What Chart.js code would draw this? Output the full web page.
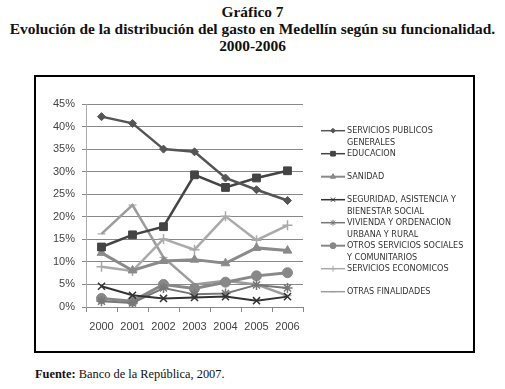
<!DOCTYPE html>
<html>
<head>
<meta charset="utf-8">
<script src="https://cdn.jsdelivr.net/npm/chart.js@4/dist/chart.umd.min.js"></script>
<style>
  body { margin: 0; width: 505px; height: 389px; background: #fff; position: relative; overflow: hidden; }
  .title { position: absolute; left: 0; width: 505px; text-align: center; font-family: "Liberation Serif", serif; font-weight: bold; font-size: 15.4px; color: #111; line-height: 17px; }
  #box { position: absolute; left: 34px; top: 75px; width: 441px; height: 278px; border: 2px solid #000; box-sizing: border-box; }
  #box canvas { position: absolute; left: 0; top: 0; }
  #fuente { position: absolute; left: 35px; top: 367px; font-family: "Liberation Serif", serif; font-size: 12.4px; color: #111; }
</style>
</head>
<body>
<div class="title" style="top:3px">Gráfico 7</div>
<div class="title" style="top:20px">Evolución de la distribución del gasto en Medellín según su funcionalidad.</div>
<div class="title" style="top:37px">2000-2006</div>
<div id="box"><canvas id="chartGasto" width="437" height="274"></canvas></div>
<div id="fuente"><b>Fuente:</b> Banco de la República, 2007.</div>
<script>
const years = ['2000', '2001', '2002', '2003', '2004', '2005', '2006'];
const serviciosPublicos = [42.2, 40.7, 35.0, 34.4, 28.6, 26.0, 23.6];
const educacion = [13.3, 16.0, 17.8, 29.3, 26.5, 28.6, 30.2];
const sanidad = [12.0, 8.1, 10.2, 10.5, 9.7, 13.1, 12.5];
const seguridad = [4.6, 2.6, 1.9, 2.1, 2.3, 1.4, 2.3];
const vivienda = [1.3, 0.9, 4.2, 2.8, 3.0, 4.9, 4.2];
const otrosSociales = [1.9, 1.3, 5.0, 4.1, 5.5, 6.9, 7.6];
const economicos = [8.9, 8.0, 15.1, 12.7, 20.1, 14.8, 18.1];
const otrasFinalidades = [16.2, 22.6, 11.0, 5.0, 5.8, 5.0, 2.5];
const yTicks = [0, 5, 10, 15, 20, 25, 30, 35, 40, 45];

const series = [
    { label: ['SERVICIOS PUBLICOS', 'GENERALES'], data: serviciosPublicos, color: '#555', style: 'rectRot', radius: 4, width: 2.5 },
    { label: ['EDUCACION'], data: educacion, color: '#444', style: 'rect', radius: 5.5, width: 2.5 },
    { label: ['SANIDAD'], data: sanidad, color: '#8a8a8a', style: 'triangle', radius: 5, width: 3 },
    { label: ['SEGURIDAD, ASISTENCIA Y', 'BIENESTAR SOCIAL'], data: seguridad, color: '#333', style: 'crossRot', radius: 5, width: 2 },
    { label: ['VIVIENDA Y ORDENACION', 'URBANA Y RURAL'], data: vivienda, color: '#777', style: 'star', radius: 5, width: 2 },
    { label: ['OTROS SERVICIOS SOCIALES', 'Y COMUNITARIOS'], data: otrosSociales, color: '#888', style: 'circle', radius: 5, width: 3 },
    { label: ['SERVICIOS ECONOMICOS'], data: economicos, color: '#aaa', style: 'cross', radius: 5, width: 2.5 },
    { label: ['OTRAS FINALIDADES'], data: otrasFinalidades, color: '#9c9c9c', style: 'line', radius: 4, width: 2.5 }
];

// legend drawn by hand: line + marker + two-line text
const sideLegend = {
    id: 'sideLegend',
    afterDraw(chart) {
        const ctx = chart.ctx;
        ctx.save();
        series.forEach((s, i) => {
            const y = 53.7 + i * 23;
            ctx.strokeStyle = s.color;
            ctx.lineWidth = s.width > 2.5 ? 2 : 1.5;
            ctx.beginPath();
            ctx.moveTo(285, y);
            ctx.lineTo(309, y);
            ctx.stroke();
            ctx.fillStyle = s.color;
            ctx.lineWidth = 1;
            Chart.helpers.drawPoint(ctx, { pointStyle: s.style, radius: s.radius * 0.6, borderWidth: 1 }, 297, y);
            ctx.fillStyle = '#333';
            ctx.font = '9px "Liberation Sans Narrow", "DejaVu Sans Condensed", sans-serif';
            ctx.textBaseline = 'middle';
            ctx.textAlign = 'left';
            s.label.forEach((t, k) => ctx.fillText(t, 311, y + k * 11.5));
        });
        ctx.restore();
    }
};

new Chart(document.getElementById('chartGasto').getContext('2d'), {
    type: 'line',
    data: {
        labels: years,
        datasets: series.map(s => ({
            label: s.label.join(' '),
            data: s.data,
            borderColor: s.color,
            backgroundColor: s.color,
            borderWidth: s.width,
            pointStyle: s.style,
            pointRadius: s.radius,
            pointBorderColor: s.color,
            pointBackgroundColor: s.color,
            pointBorderWidth: s.style === 'crossRot' || s.style === 'star' || s.style === 'cross' ? 1.5 : 1,
            tension: 0
        }))
    },
    options: {
        responsive: false,
        animation: false,
        layout: { padding: { left: 0, top: 27, right: 170, bottom: 0 } },
        plugins: { legend: { display: false }, tooltip: { enabled: false } },
        scales: {
            x: {
                offset: true,
                grid: { offset: true, drawOnChartArea: false, drawTicks: true, tickLength: 5, color: '#888' },
                border: { display: true, color: '#888' },
                ticks: { color: '#444', font: { family: 'Liberation Sans', size: 11 }, padding: 8, maxRotation: 0 },
                afterFit: s => { s.height = 44; }
            },
            y: {
                min: 0,
                max: 45,
                afterBuildTicks: s => { s.ticks = yTicks.map(v => ({ value: v })); },
                grid: { color: '#888', tickLength: 4, lineWidth: 1 },
                border: { display: true, color: '#aaa' },
                ticks: { color: '#444', font: { family: 'Liberation Sans', size: 11 }, padding: 7, callback: v => v + '%' },
                afterFit: s => { s.width = 50; }
            }
        }
    },
    plugins: [sideLegend]
});
</script>
</body>
</html>
